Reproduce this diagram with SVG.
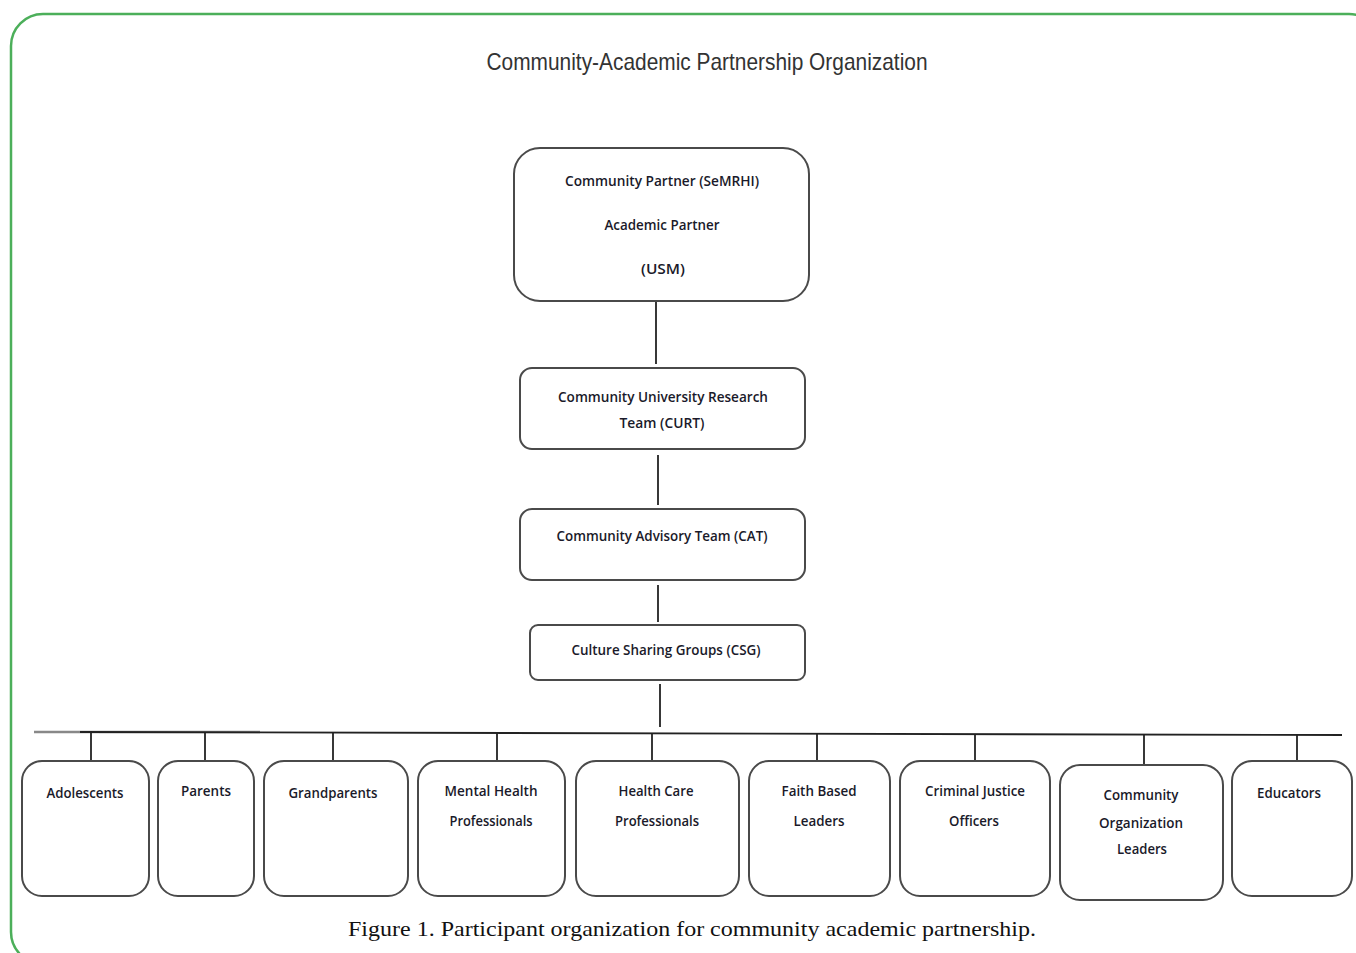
<svg xmlns="http://www.w3.org/2000/svg" width="1356" height="953" viewBox="0 0 1356 953">
<style>
.frame{fill:none;stroke:#4caf5a;stroke-width:2.5}
.box{fill:#fff;stroke:#4a4a4a;stroke-width:2}
.t{font-family:"Open Sans","Liberation Sans",sans-serif;font-size:14px;font-weight:600;fill:#1a1a2a;text-anchor:middle}
.title{font-family:"Liberation Sans",sans-serif;font-size:24px;fill:#333;text-anchor:middle}
.cap{font-family:"Liberation Serif",serif;font-size:22px;fill:#111;text-anchor:middle}
.c{stroke:#222;stroke-width:1.8;fill:none}
</style>
<rect class="frame" x="11" y="14" width="1370" height="950" rx="32"/>
<text class="title" x="707" y="70" textLength="441" lengthAdjust="spacingAndGlyphs">Community-Academic Partnership Organization</text>
<g id="connectors">
<line class="c" x1="656" y1="302" x2="656" y2="364"/>
<line class="c" x1="658" y1="455" x2="658" y2="505"/>
<line class="c" x1="658" y1="585" x2="658" y2="622"/>
<line class="c" x1="660" y1="684" x2="660" y2="727"/>
<line x1="34" y1="732" x2="260" y2="732" stroke="#888" stroke-width="2.5"/>
<line class="c" x1="80" y1="732" x2="1342" y2="735"/>
<line class="c" x1="91" y1="732" x2="91" y2="761"/>
<line class="c" x1="205" y1="732" x2="205" y2="761"/>
<line class="c" x1="333" y1="732" x2="333" y2="761"/>
<line class="c" x1="497" y1="733" x2="497" y2="761"/>
<line class="c" x1="652" y1="733" x2="652" y2="761"/>
<line class="c" x1="817" y1="734" x2="817" y2="763"/>
<line class="c" x1="975" y1="734" x2="975" y2="761"/>
<line class="c" x1="1144" y1="734" x2="1144" y2="765"/>
<line class="c" x1="1297" y1="735" x2="1297" y2="765"/>
</g>
<g id="partners">
<rect class="box" x="514" y="148" width="295" height="153" rx="26"/>
<text class="t" x="662" y="186" textLength="194" lengthAdjust="spacingAndGlyphs">Community Partner (SeMRHI)</text>
<text class="t" x="662" y="230" textLength="115" lengthAdjust="spacingAndGlyphs">Academic Partner</text>
<text class="t" x="663" y="274" textLength="44" lengthAdjust="spacingAndGlyphs">(USM)</text>
</g>
<g id="curt">
<rect class="box" x="520" y="368" width="285" height="81" rx="12"/>
<text class="t" x="663" y="402" textLength="210" lengthAdjust="spacingAndGlyphs">Community University Research</text>
<text class="t" x="662" y="428" textLength="85" lengthAdjust="spacingAndGlyphs">Team (CURT)</text>
</g>
<g id="cat">
<rect class="box" x="520" y="509" width="285" height="71" rx="12"/>
<text class="t" x="662" y="541" textLength="211" lengthAdjust="spacingAndGlyphs">Community Advisory Team (CAT)</text>
</g>
<g id="csg">
<rect class="box" x="530" y="625" width="275" height="55" rx="8"/>
<text class="t" x="666" y="655" textLength="189" lengthAdjust="spacingAndGlyphs">Culture Sharing Groups (CSG)</text>
</g>
<g id="adolescents">
<rect class="box" x="22" y="761" width="127" height="135" rx="20"/>
<text class="t" x="85" y="798" textLength="77" lengthAdjust="spacingAndGlyphs">Adolescents</text>
</g>
<g id="parents">
<rect class="box" x="158" y="761" width="96" height="135" rx="20"/>
<text class="t" x="206" y="796" textLength="50" lengthAdjust="spacingAndGlyphs">Parents</text>
</g>
<g id="grandparents">
<rect class="box" x="264" y="761" width="144" height="135" rx="20"/>
<text class="t" x="333" y="798" textLength="89" lengthAdjust="spacingAndGlyphs">Grandparents</text>
</g>
<g id="mental-health">
<rect class="box" x="418" y="761" width="147" height="135" rx="20"/>
<text class="t" x="491" y="796" textLength="93" lengthAdjust="spacingAndGlyphs">Mental Health</text>
<text class="t" x="491" y="826" textLength="83" lengthAdjust="spacingAndGlyphs">Professionals</text>
</g>
<g id="health-care">
<rect class="box" x="576" y="761" width="163" height="135" rx="20"/>
<text class="t" x="656" y="796" textLength="75" lengthAdjust="spacingAndGlyphs">Health Care</text>
<text class="t" x="657" y="826" textLength="84" lengthAdjust="spacingAndGlyphs">Professionals</text>
</g>
<g id="faith-based">
<rect class="box" x="749" y="761" width="141" height="135" rx="20"/>
<text class="t" x="819" y="796" textLength="75" lengthAdjust="spacingAndGlyphs">Faith Based</text>
<text class="t" x="819" y="826" textLength="51" lengthAdjust="spacingAndGlyphs">Leaders</text>
</g>
<g id="criminal-justice">
<rect class="box" x="900" y="761" width="150" height="135" rx="20"/>
<text class="t" x="975" y="796" textLength="100" lengthAdjust="spacingAndGlyphs">Criminal Justice</text>
<text class="t" x="974" y="826" textLength="50" lengthAdjust="spacingAndGlyphs">Officers</text>
</g>
<g id="community-org">
<rect class="box" x="1060" y="765" width="163" height="135" rx="20"/>
<text class="t" x="1141" y="800" textLength="75" lengthAdjust="spacingAndGlyphs">Community</text>
<text class="t" x="1141" y="828" textLength="84" lengthAdjust="spacingAndGlyphs">Organization</text>
<text class="t" x="1142" y="854" textLength="50" lengthAdjust="spacingAndGlyphs">Leaders</text>
</g>
<g id="educators">
<rect class="box" x="1232" y="761" width="120" height="135" rx="20"/>
<text class="t" x="1289" y="798" textLength="64" lengthAdjust="spacingAndGlyphs">Educators</text>
</g>
<text class="cap" x="692" y="936" textLength="688" lengthAdjust="spacingAndGlyphs">Figure 1. Participant organization for community academic partnership.</text>
</svg>
